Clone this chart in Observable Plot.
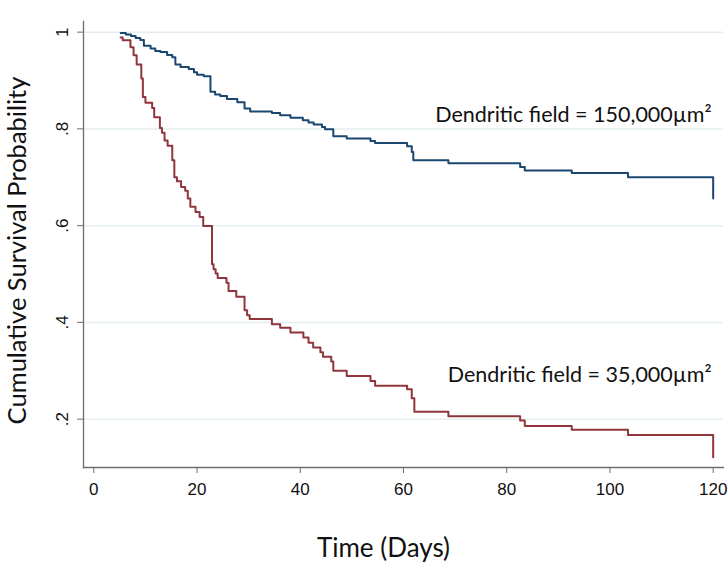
<!DOCTYPE html>
<html>
<head>
<meta charset="utf-8">
<script src="https://cdn.jsdelivr.net/npm/d3@7"></script>
<script src="https://cdn.jsdelivr.net/npm/@observablehq/plot@0.6"></script>
<style>
  html, body { margin: 0; padding: 0; background: #fff; }
  #chart svg { display: block; }
</style>
</head>
<body>
<div id="chart"></div>
<script>
// Large dendritic field (150,000 µm²) – blue
const bigDays = [5.2, 6.2, 7.2, 8.1, 9.0, 9.7, 11.0, 11.9, 12.9, 14.2, 15.2, 15.8, 16.8, 18.4, 19.4, 20.0, 21.3,
  22.6, 23.5, 24.5, 25.8, 27.8, 29.2, 30.3, 34.5, 36.1, 38.1, 40.5, 41.6, 42.6, 44.2, 44.8, 46.4, 49.0, 53.6, 54.5,
  60.7, 61.6, 61.9, 68.7, 82.6, 83.5, 92.6, 103.5, 120.0];
const bigSurv = [0.998, 0.995, 0.992, 0.988, 0.984, 0.972, 0.966, 0.961, 0.959, 0.953, 0.948, 0.933, 0.928, 0.924, 0.917, 0.912, 0.909,
  0.877, 0.871, 0.868, 0.862, 0.855, 0.842, 0.836, 0.833, 0.828, 0.823, 0.818, 0.813, 0.809, 0.804, 0.799, 0.785, 0.780, 0.775, 0.771,
  0.764, 0.752, 0.735, 0.729, 0.721, 0.714, 0.709, 0.700, 0.656];

// Small dendritic field (35,000 µm²) – red
const smallDays = [5.2, 5.6, 7.1, 7.7, 8.3, 9.2, 9.5, 10.0, 11.3, 11.7, 12.8, 13.2, 13.7, 14.3, 15.2, 15.6, 16.1, 16.9, 17.7,
  18.2, 18.7, 19.7, 20.5, 21.2, 22.9, 23.2, 23.6, 24.0, 25.7, 26.1, 27.6, 29.2, 29.7, 30.2, 34.5, 36.1, 38.1, 40.6, 41.6,
  42.5, 43.9, 44.4, 46.0, 46.4, 49.0, 53.6, 54.5, 60.7, 61.6, 62.1, 68.7, 82.6, 83.5, 92.6, 103.5, 120.0];
const smallSurv = [0.989, 0.983, 0.969, 0.952, 0.933, 0.904, 0.866, 0.854, 0.843, 0.824, 0.802, 0.792, 0.776, 0.765, 0.735, 0.700, 0.692, 0.680, 0.672,
  0.656, 0.639, 0.628, 0.618, 0.599, 0.520, 0.510, 0.501, 0.492, 0.482, 0.465, 0.453, 0.425, 0.415, 0.407, 0.396, 0.389, 0.379, 0.369, 0.358,
  0.348, 0.338, 0.329, 0.319, 0.300, 0.289, 0.279, 0.269, 0.262, 0.243, 0.215, 0.206, 0.197, 0.186, 0.178, 0.167, 0.121];

const xTicks = [0, 20, 40, 60, 80, 100, 120];
const yTicks = [0.2, 0.4, 0.6, 0.8, 1];
const yTickLabels = [".2", ".4", ".6", ".8", "1"];
const seriesLabels = ["Dendritic field = 150,000µm²", "Dendritic field = 35,000µm²"];
const colors = ["#1a476f", "#90353b"];

const big = bigDays.map((d, i) => ({day: d, s: bigSurv[i]}));
const small = smallDays.map((d, i) => ({day: d, s: smallSurv[i]}));
const yTickData = yTicks.map((v, i) => ({v, label: yTickLabels[i]}));

const axisColor = "#6e6e6e";
const titleFont = "Lato, 'Open Sans', sans-serif";
const tickFont = "'Liberation Sans', Arial, sans-serif";

const chart = Plot.plot({
  width: 728,
  height: 564,
  marginLeft: 83,
  marginRight: 5,
  marginTop: 21,
  marginBottom: 97,
  x: {domain: [-2, 122]},
  y: {domain: [0.1, 1.022]},
  marks: [
    Plot.gridY(yTicks, {stroke: "#e4eef0", strokeOpacity: 1, strokeWidth: 1.5}),
    Plot.frame({anchor: "left", stroke: axisColor, strokeWidth: 1.3}),
    Plot.frame({anchor: "bottom", stroke: axisColor, strokeWidth: 1.3}),
    Plot.axisX(xTicks, {tickSize: 6, tickPadding: 9, fontSize: 17, fontFamily: tickFont, color: "#111", stroke: axisColor, label: null}),
    Plot.axisY(yTicks, {tickSize: 6, tickFormat: () => "", stroke: axisColor, label: null}),
    Plot.text(yTickData, {y: "v", text: "label", frameAnchor: "left", textAnchor: "middle", lineAnchor: "middle", dx: -21, rotate: -90, fontSize: 17, fontFamily: tickFont, fill: "#111"}),
    Plot.line(big, {x: "day", y: "s", curve: "step-after", stroke: colors[0], strokeWidth: 2}),
    Plot.line(small, {x: "day", y: "s", curve: "step-after", stroke: colors[1], strokeWidth: 2}),
    Plot.text([seriesLabels[0]], {x: 119.7, y: 0.828, text: d => d, textAnchor: "end", lineAnchor: "middle", fontSize: 21.5, fontFamily: titleFont, fill: "#111"}),
    Plot.text([seriesLabels[1]], {x: 119.7, y: 0.291, text: d => d, textAnchor: "end", lineAnchor: "middle", fontSize: 21.5, fontFamily: titleFont, fill: "#111"}),
    Plot.text(["Time (Days)"], {frameAnchor: "bottom", textAnchor: "middle", lineAnchor: "middle", dy: 81, dx: -20, text: d => d, fontSize: 26, fontFamily: titleFont, fill: "#111"}),
    Plot.text(["Cumulative Survival Probability"], {frameAnchor: "left", textAnchor: "middle", lineAnchor: "middle", dx: -66, dy: 6, rotate: -90, text: d => d, fontSize: 25.5, fontFamily: titleFont, fill: "#111"})
  ]
});
document.getElementById("chart").appendChild(chart);
</script>
</body>
</html>
